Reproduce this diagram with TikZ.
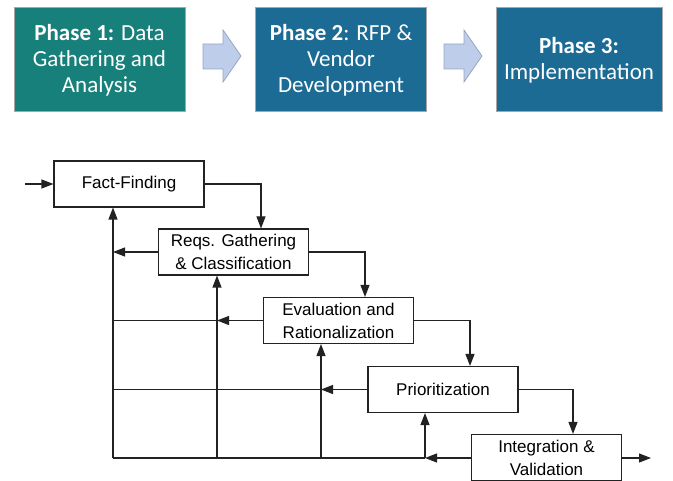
\documentclass[tikz,border=0pt]{standalone}
\usepackage{fontspec}
\setmainfont{Liberation Sans}
\newfontfamily\calfont{Carlito}
\usetikzlibrary{arrows.meta}
\definecolor{tealph}{HTML}{17807B}
\definecolor{blueph}{HTML}{1B6B94}
\definecolor{arrfill}{HTML}{BDCDEA}
\definecolor{arrline}{HTML}{97A6C2}
\definecolor{lnc}{HTML}{222222}
\tikzset{
  phase/.style={draw=gray!70, line width=1pt, minimum width=171pt, minimum height=104pt,
    text=white, align=center, font=\calfont\fontsize{23}{26}\selectfont, inner sep=0pt},
  procbox/.style={draw=lnc, line width=1.1pt, fill=white, minimum width=150pt, minimum height=46pt,
    align=center, font=\fontsize{17}{23}\selectfont, inner sep=0pt},
  conn/.style={draw=lnc, line width=1.1pt},
  arr/.style={conn, -{Triangle[length=12pt,width=9pt]}},
  blockarrow/.style={fill=arrfill, draw=arrline, line width=0.8pt}
}
\begin{document}
\begin{tikzpicture}[x=1pt,y=-1pt]
\useasboundingbox (0,0) rectangle (673,481);
% top row
\node[phase, fill=tealph] (p1) at (99.5,60) {\textbf{Phase 1:} Data\\Gathering and\\Analysis};
\node[phase, fill=blueph] (p2) at (341,60) {\textbf{Phase 2}: RFP \&\\Vendor\\Development};
\node[phase, fill=blueph, minimum width=166pt] (p3) at (579,60) {\textbf{Phase 3:}\\Implementation};
\draw[blockarrow] (203,44) -- (223,44) -- (223,30) -- (241,56) -- (223,82) -- (223,69) -- (203,69) -- cycle;
\draw[blockarrow] (444,44) -- (464,44) -- (464,30) -- (482,56) -- (464,82) -- (464,69) -- (444,69) -- cycle;
% process boxes
\node[procbox] (ff) at (129,184) {Fact-Finding};
\node[procbox] (rq) at (233.5,252) {Reqs. Gathering\\\& Classification};
\node[procbox] (ev) at (338.5,320.5) {Evaluation and\\Rationalization};
\node[procbox] (pr) at (443,389.5) {Prioritization};
\node[procbox] (ig) at (546.5,457.5) {Integration \&\\Validation};
% coordinates
\coordinate (in) at (25,184);
\coordinate (out) at (651,458);
\coordinate (c1) at (261,184);
\coordinate (c2) at (365,252);
\coordinate (c3) at (470,320.5);
\coordinate (c4) at (573,389.5);
\coordinate (v1b) at (113,458);
\coordinate (v2b) at (217,458);
\coordinate (v3b) at (321,458);
\coordinate (v4b) at (425,458);
\coordinate (h2) at (113,320.5);
\coordinate (h3) at (113,389.5);
% forward flow
\draw[arr] (in) -- (ff.west);
\draw[arr] (ff.east) -- (c1) -- (c1 |- rq.north);
\draw[arr] (rq.east) -- (c2) -- (c2 |- ev.north);
\draw[arr] (ev.east) -- (c3) -- (c3 |- pr.north);
\draw[arr] (pr.east) -- (c4) -- (c4 |- ig.north);
\draw[arr] (ig.east |- out) -- (out);
% feedback
\draw[arr] (rq.west) -- (rq.west -| v1b);
\draw[arr] (ev.west) -- (ev.west -| v2b);
\draw[conn] (ev.west -| v2b) -- (h2);
\draw[arr] (pr.west) -- (pr.west -| v3b);
\draw[conn] (pr.west -| v3b) -- (h3);
\draw[arr] (ig.west |- v4b) -- (v4b);
\draw[conn] (v4b) -- (v1b);
\draw[arr] (v1b) -- (v1b |- ff.south);
\draw[arr] (v2b) -- (v2b |- rq.south);
\draw[arr] (v3b) -- (v3b |- ev.south);
\draw[arr] (v4b) -- (v4b |- pr.south);
\end{tikzpicture}
\end{document}
